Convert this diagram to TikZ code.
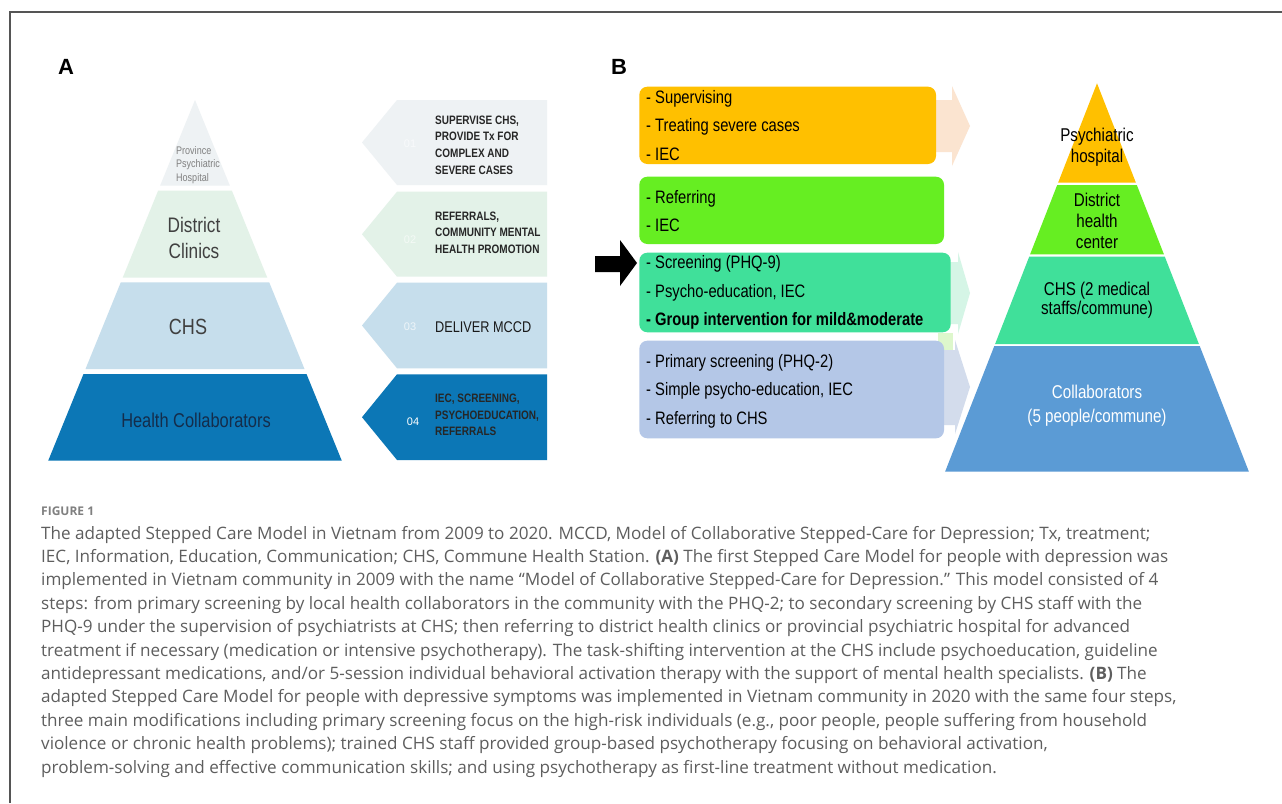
\documentclass[tikz,border=0pt]{standalone}
\usepackage{fontspec}
\usepackage{graphicx}
\setmainfont{Open Sans}
\newfontfamily\arial{Liberation Sans}
\newfontfamily\narrow[FakeStretch=0.82]{Liberation Sans}
\newfontfamily\capfont{Open Sans}
\definecolor{frameC}{HTML}{555555}
\definecolor{aT1}{HTML}{EEF2F4}
\definecolor{aT2}{HTML}{E3F2E8}
\definecolor{aT3}{HTML}{C6DEEC}
\definecolor{aT4}{HTML}{0C77B6}
\definecolor{bOr}{HTML}{FFC000}
\definecolor{bGr}{HTML}{66EE22}
\definecolor{bTe}{HTML}{40E09A}
\definecolor{bLv}{HTML}{B4C7E7}
\definecolor{bBl}{HTML}{5B9BD5}
\definecolor{fPeach}{HTML}{FBE4D0}
\definecolor{fMint}{HTML}{D5F5E6}
\definecolor{fBlue}{HTML}{D3DCEC}
\definecolor{fLime}{HTML}{DDF7CC}
\definecolor{capC}{HTML}{5E5E5E}
\begin{document}
\begin{tikzpicture}[x=1pt,y=-1pt,
  capline/.style={anchor=base west,inner sep=0pt,font=\capfont\fontsize{17.1}{20}\selectfont,text=capC},
  atext/.style={anchor=west,align=left,inner sep=0pt,text=black!85,font=\narrow\bfseries\fontsize{12.2}{16.7}\selectfont},
  anum/.style={inner sep=0pt,font=\arial\fontsize{11}{13}\selectfont},
  boxtext/.style={anchor=west,align=left,inner sep=0pt,font=\narrow\fontsize{18}{28.5}\selectfont},
  bbox/.style={rounded corners=8pt},
  ptext/.style={align=center,inner sep=0pt,font=\narrow\fontsize{18.5}{20.6}\selectfont}]
\useasboundingbox (0,0) rectangle (1282,803);
\fill[white] (0,0) rectangle (1282,803);
% frame
\draw[frameC,line width=1.3pt] (10,803) -- (10,12) -- (1282,12);
% panel labels
\node[font=\arial\bfseries\fontsize{22}{24}\selectfont] (labA) at (66,67) {A};
\node[font=\arial\bfseries\fontsize{22}{24}\selectfont] (labB) at (619,67) {B};
% ---------- Panel A pyramid
\fill[aT1] (195,100) -- (229.9,185.7) -- (160.1,185.7) -- cycle;
\fill[aT2] (158.1,190.7) -- (231.9,190.7) -- (267.3,277.7) -- (122.7,277.7) -- cycle;
\fill[aT3] (120.8,282.3) -- (269.2,282.3) -- (304.5,369) -- (85.5,369) -- cycle;
\fill[aT4] (83.5,374) -- (306.5,374) -- (341.8,460.7) -- (48.2,460.7) -- cycle;
\node[anchor=west,align=left,inner sep=0pt,text=black!50,font=\narrow\fontsize{11}{13.5}\selectfont] (pA1) at (176,165) {Province\\Psychiatric\\Hospital};
\node[align=center,inner sep=0pt,text=black!75,font=\narrow\fontsize{21}{26}\selectfont] (pA2) at (194,238) {District\\Clinics};
\node[inner sep=0pt,text=black!75,font=\narrow\fontsize{22}{24}\selectfont] (pA3) at (188,327) {CHS};
\node[inner sep=0pt,text={rgb,255:red,20;green,45;blue,75},font=\narrow\fontsize{20}{22}\selectfont] (pA4) at (196,420) {Health Collaborators};
% ---------- Panel A arrows
\fill[aT1] (397,100) -- (547,100) -- (547,185) -- (397,185) -- (362,142.5) -- cycle;
\fill[aT2] (397,191.7) -- (547,191.7) -- (547,276.7) -- (397,276.7) -- (362,234.2) -- cycle;
\fill[aT3] (397,282.7) -- (547,282.7) -- (547,368.3) -- (397,368.3) -- (362,325.5) -- cycle;
\fill[aT4] (397,374.3) -- (547,374.3) -- (547,460) -- (397,460) -- (362,417.2) -- cycle;
\node[anum,text=white!60!aT1] (n1) at (410,144) {01};
\node[anum,text=white!60!aT2] (n2) at (410,240) {02};
\node[anum,text=white!70!aT3] (n3) at (410,327) {03};
\node[anum,text=white] (n4) at (413,422) {04};
\node[atext] (t1) at (435,145) {SUPERVISE CHS,\\PROVIDE Tx FOR\\COMPLEX AND\\SEVERE CASES};
\node[atext] (t2) at (435,232.5) {REFERRALS,\\COMMUNITY MENTAL\\HEALTH PROMOTION};
\node[anchor=west,inner sep=0pt,text=black!90,font=\narrow\fontsize{15.5}{17}\selectfont] (t3) at (435,327) {DELIVER MCCD};
\node[atext] (t4) at (435,415) {IEC, SCREENING,\\PSYCHOEDUCATION,\\REFERRALS};
% ---------- Panel B faded arrows
\fill[fPeach] (936,100) -- (952,100) -- (952,86) -- (970,126) -- (952,166) -- (952,152) -- (936,152) -- cycle;
\fill[fMint] (950,262) -- (958,262) -- (958,252) -- (970,293) -- (958,334) -- (958,324) -- (950,324) -- cycle;
\fill[fLime] (938,333) -- (953,333) -- (953,363) -- (938,363) -- cycle;
\fill[fBlue] (944,350) -- (955,350) -- (955,340) -- (970,387) -- (955,434) -- (955,425) -- (944,425) -- cycle;
% ---------- Panel B boxes
\fill[bOr,bbox] (639.3,86.7) rectangle (936,164);
\fill[bGr,bbox] (639.3,176.7) rectangle (944,244);
\fill[bTe,bbox] (639.3,252.7) rectangle (950.7,332.3);
\fill[bLv,bbox] (639.3,340.7) rectangle (944,438.3);
\node[boxtext] (b1) at (646,125.5) {- Supervising\\- Treating severe cases\\- IEC};
\node[boxtext] (b2) at (646,211) {- Referring\\- IEC};
\node[boxtext] (b3) at (646,292.5) {- Screening (PHQ-9)\\- Psycho-education, IEC\\\textbf{- Group intervention for mild\&moderate}};
\node[boxtext] (b4) at (646,391) {- Primary screening (PHQ-2)\\- Simple psycho-education, IEC\\- Referring to CHS};
% black arrow
\fill[black] (595,256) -- (620,256) -- (620,240) -- (637,263) -- (620,286) -- (620,272) -- (595,272) -- cycle;
% ---------- Panel B pyramid
\fill[bOr] (1097,83.3) -- (1135.9,182.7) -- (1058.1,182.7) -- cycle;
\fill[bGr] (1057.2,185) -- (1136.8,185) -- (1163.9,254.3) -- (1030.1,254.3) -- cycle;
\fill[bTe] (1029.2,256.7) -- (1164.8,256.7) -- (1198.9,344) -- (995.1,344) -- cycle;
\fill[bBl] (994.3,346) -- (1199.7,346) -- (1248.9,471.7) -- (945.1,471.7) -- cycle;
\node[ptext] (q1) at (1097,147) {Psychiatric\\hospital};
\node[ptext,font=\narrow\fontsize{18.5}{20.8}\selectfont] (q2) at (1097,221) {District\\health\\center};
\node[ptext,font=\narrow\fontsize{18.5}{18.8}\selectfont] (q3) at (1097,300) {CHS (2 medical\\staffs/commune)};
\node[ptext,text=white,font=\narrow\fontsize{18.5}{24.3}\selectfont] (q4) at (1097,406) {Collaborators\\(5 people/commune)};
% ---------- Caption
\node[anchor=base west,inner sep=0pt,text=black!50,font=\capfont\bfseries\fontsize{12}{14}\selectfont] (fig) at (41,515) {FIGURE 1};
\node[capline] (c1) at (41,539) {The adapted Stepped Care Model in Vietnam from 2009 to 2020. MCCD, Model of Collaborative Stepped-Care for Depression; Tx, treatment;};
\node[capline] (c2) at (41,562.4) {IEC, Information, Education, Communication; CHS, Commune Health Station. \textbf{(A)} The first Stepped Care Model for people with depression was};
\node[capline] (c3) at (41,585.8) {implemented in Vietnam community in 2009 with the name “Model of Collaborative Stepped-Care for Depression.” This model consisted of 4};
\node[capline] (c4) at (41,609.2) {steps: from primary screening by local health collaborators in the community with the PHQ-2; to secondary screening by CHS staff with the};
\node[capline] (c5) at (41,632.6) {PHQ-9 under the supervision of psychiatrists at CHS; then referring to district health clinics or provincial psychiatric hospital for advanced};
\node[capline] (c6) at (41,656) {treatment if necessary (medication or intensive psychotherapy). The task-shifting intervention at the CHS include psychoeducation, guideline};
\node[capline] (c7) at (41,679.4) {antidepressant medications, and/or 5-session individual behavioral activation therapy with the support of mental health specialists. \textbf{(B)} The};
\node[capline] (c8) at (41,702.8) {adapted Stepped Care Model for people with depressive symptoms was implemented in Vietnam community in 2020 with the same four steps,};
\node[capline] (c9) at (41,726.2) {three main modifications including primary screening focus on the high-risk individuals (e.g., poor people, people suffering from household};
\node[capline] (c10) at (41,749.6) {violence or chronic health problems); trained CHS staff provided group-based psychotherapy focusing on behavioral activation,};
\node[capline] (c11) at (41,773) {problem-solving and effective communication skills; and using psychotherapy as first-line treatment without medication.};
\end{tikzpicture}
\end{document}
